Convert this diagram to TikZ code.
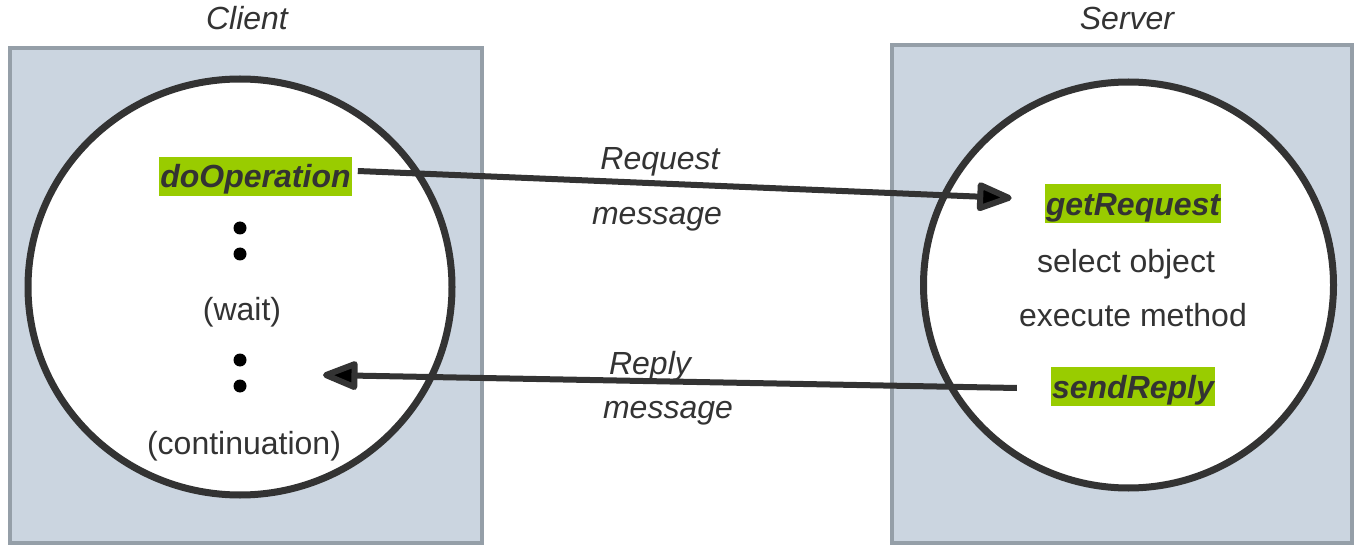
\documentclass[tikz,border=0pt]{standalone}
\usepackage{fontspec}
\setmainfont{Liberation Sans}
\usetikzlibrary{arrows.meta}
\definecolor{boxfill}{HTML}{CBD5E0}
\definecolor{boxline}{HTML}{959FA8}
\definecolor{ink}{HTML}{333333}
\definecolor{hl}{HTML}{99CC00}
\tikzset{
  procbox/.style={draw=boxline, line width=4pt, fill=boxfill},
  proccircle/.style={draw=ink, line width=7pt, fill=white},
  txt/.style={font=\fontsize{32}{36}\selectfont, text=ink, inner sep=0pt,
              text height=23pt, text depth=0pt},
  heading/.style={txt, font=\fontsize{32}{36}\selectfont\itshape},
  msg/.style={txt, font=\fontsize{32}{36}\selectfont\itshape},
  callbox/.style={txt, font=\fontsize{32}{36}\selectfont\bfseries\itshape,
                  fill=hl, inner xsep=1pt, inner ysep=4pt,
                  text height=27pt, text depth=4pt},
  dot/.style={circle, fill=black, inner sep=0pt, minimum size=13pt},
  msgarrow/.style={draw=ink, line width=6pt,
    -{Triangle[length=40pt, width=30pt, round, fill=black]}}
}
\begin{document}
\begin{tikzpicture}[x=1pt, y=-1pt]
\useasboundingbox (0,0) rectangle (1354,545);

% process boxes
\draw[procbox] (10,48) rectangle (482,543);
\draw[procbox] (892,45) rectangle (1352,543);

% headings
\node[heading] (client) at (247,18) {Client};
\node[heading] (server) at (1127,18) {Server};

% process circles
\draw[proccircle] (240,287) ellipse [x radius=212, y radius=208];
\draw[proccircle] (1128.5,285) ellipse [x radius=205, y radius=203];

% client side
\node[callbox] (doop) at (255.5,176.5) {doOperation};
\node[dot] (d1) at (240,228) {};
\node[dot] (d2) at (240,254) {};
\node[txt] (wait) at (242,309) {(wait)};
\node[dot] (d3) at (240,360) {};
\node[dot] (d4) at (240,386) {};
\node[txt] (cont) at (244,443) {(continuation)};

% server side
\node[callbox] (getreq) at (1133,204) {getRequest};
\node[txt] (select) at (1126,261) {select object};
\node[txt] (exec) at (1133,315) {execute method};
\node[callbox] (sendrep) at (1133,386.5) {sendReply};

% message labels
\node[msg] (reqa) at (660,158) {Request};
\node[msg] (reqb) at (657,213) {message};
\node[msg] (repa) at (650,363) {Reply};
\node[msg] (repb) at (668,407) {message};

% message arrows
\coordinate (reqstart) at ([xshift=6pt, yshift=5.5pt]doop.east);
\coordinate (reqend) at ([xshift=-33pt, yshift=6pt]getreq.west);
\coordinate (repstart) at ([xshift=-34pt, yshift=-1.5pt]sendrep.west);
\coordinate (repend) at ([xshift=83pt, yshift=11pt]d4.center);
\draw[msgarrow] (reqstart) -- (reqend);
\draw[msgarrow] (repstart) -- (repend);
\end{tikzpicture}
\end{document}
